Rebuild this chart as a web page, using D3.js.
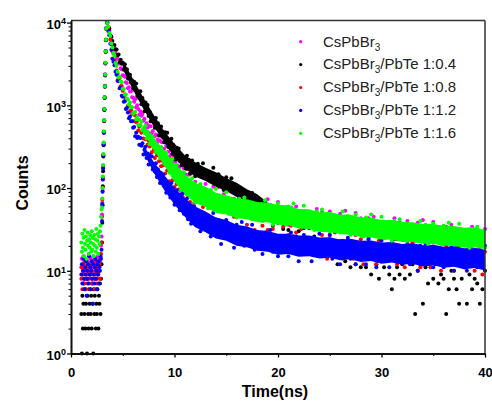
<!DOCTYPE html>
<html>
<head>
<meta charset="utf-8">
<script src="https://cdn.jsdelivr.net/npm/d3@7"></script>
<style>
  body { margin: 0; background: #fff; }
  svg { display: block; font-family: "Liberation Sans", Arial, sans-serif; }
</style>
</head>
<body>
<div id="chart"></div>
<script>
// channel grid: [start ns, step ns, number of channels]
var channelSegments = [[1.0, 0.05, 40], [3.0, 0.025, 17], [3.5, 0.1, 86], [12.25, 0.25, 112]];

var seriesLabels = ["CsPbBr3", "CsPbBr3/PbTe 1:0.4", "CsPbBr3/PbTe 1:0.8", "CsPbBr3/PbTe 1:1.2", "CsPbBr3/PbTe 1:1.6"];

// counts per channel (background / rise / decay / tail)
var cspbbr3Counts = [
  11,14,9,12,15,10,13,8,12,11,14,9,13,10,12,15,11,9,14,12,10,13,11,15,9,12,14,10,13,11,12,9,15,12,10,14,13,16,20,26,
  48,66,98,126,185,245,350,470,660,890,1260,1690,2380,3220,4550,6150,8550,
  10000,8560,8105,7010,6515,5475,5180,4500,4285,3865,3645,3170,3245,2815,2735,2305,2285,2210,1900,1865,1610,1655,1465,1475,1255,1235,1105,1185,940,1000,900,770,850,750,785,650,690,550,607,540,563,460,558,457,490,374,419,443,354,386,309,372,311,359,277,298,258,325,223,275,240,191,254,209,245,179,208,159,187,164,181,135,200,148,174,114,146,169,119,145,102,149,113,152,100,119,
  96,139,80,112,93,67,104,78,103,66,84,57,75,63,74,52,85,60,75,46,62,75,50,64,43,68,50,73,44,56,46,68,40,58,49,36,58,45,60,39,51,35,47,40,48,34,56,40,51,31,43,52,35,45,30,49,36,53,32,41,34,50,30,43,36,27,43,34,45,29,38,26,35,30,36,26,43,31,39,24,33,40,27,35,23,38,28,41,25,31,26,39,23,33,28,21,34,27,36,23,30,21,28,24,29,21,34,24,31,19,26,32
];
var pbte04Counts = [
  3,1,5,2,4,7,3,6,2,4,8,1,5,3,2,6,4,9,3,5,2,7,4,1,6,3,5,8,2,4,3,6,10,2,5,4,7,3,8,12,
  22,38,62,105,160,240,330,470,640,880,1230,1680,2300,3200,4400,6100,8400,
  10000,8785,8560,6970,6800,6000,5255,5370,4775,4730,4060,4115,3330,3565,3180,3265,2695,3135,2615,2725,2110,2285,2335,1890,1990,1605,1930,1525,1835,1300,1430,1220,1475,1030,1225,1060,850,1080,885,1010,742,837,642,735,638,686,537,701,549,607,433,508,553,418,472,357,472,363,466,314,361,304,394,260,331,285,223,307,249,301,212,253,189,230,200,224,172,246,188,219,150,188,216,158,190,139,
  196,149,200,131,154,130,176,112,147,125,95,135,107,131,89,107,75,91,76,84,60,87,63,72,44,58,68,44,55,35,54,38,54,32,39,31,45,26,36,30,22,33,25,33,20,26,17,22,18,21,15,24,16,21,12,17,20,13,17,11,18,12,19,11,14,11,17,9,14,12,8,14,11,15,9,6,8,11,9,12,8,14,9,12,3,10,12,4,11,7,11,8,12,7,9,8,3,6,10,8,6,4,8,11,4,9,6,8,7,4,6,10
];
var pbte08Counts = [
  8,11,6,9,12,7,10,8,13,6,9,11,7,10,8,12,9,6,11,8,10,7,12,9,8,11,6,10,9,13,7,8,11,9,10,12,8,14,16,22,
  45,72,92,135,176,255,340,480,645,910,1240,1720,2330,3270,4480,6250,8450,
  9800,8645,7695,6190,5560,4490,4225,3495,3245,2640,2425,2110,2140,1700,1715,1500,1285,1355,1185,1185,985,995,850,870,785,780,645,755,625,650,495,550,575,465,495,397,496,388,480,334,374,318,397,271,334,290,230,304,249,290,211,242,184,216,188,207,150,231,164,196,121,158,185,124,153,103,154,112,156,96,116,93,142,78,115,94,66,111,82,112,68,90,59,80,66,81,
  51,97,59,79,39,59,75,42,59,34,63,40,66,33,45,34,57,28,45,36,24,44,31,45,25,35,21,31,25,32,20,39,25,34,17,27,35,21,29,17,32,21,36,18,25,19,33,16,27,22,14,27,20,29,16,23,14,21,17,22,14,27,17,24,12,19,25,15,21,12,23,15,25,13,18,14,24,12,20,16,11,21,15,22,13,18,11,16,13,17,11,22,14,19,10,15,20,12,17,10,19,12,21,11,15,12,20,10,16,13,9,17
];
var pbte12Counts = [
  9,12,7,10,14,8,6,11,9,13,5,10,8,12,7,15,9,11,6,10,13,8,4,12,9,7,11,14,8,10,6,12,9,13,7,11,10,15,14,18,
  40,64,90,128,172,248,338,465,655,895,1245,1710,2340,3240,4520,6180,8520,
  10000,7940,7045,5555,4710,3650,3365,3045,2550,2335,1975,1955,1610,1620,1305,1270,1105,1120,900,925,820,700,735,640,640,535,546,423,465,403,418,333,403,325,347,255,291,316,231,262,192,252,196,242,168,187,159,199,136,167,145,115,152,124,146,106,125,88,110,93,106,77,115,84,99,63,81,94,64,79,54,83,58,86,49,62,50,75,42,61,51,37,60,45,60,38,
  50,30,43,34,42,26,50,30,41,21,32,41,24,34,19,36,23,39,20,27,21,36,18,29,23,16,29,21,31,17,24,15,22,18,23,15,29,19,26,13,21,27,16,23,13,25,17,28,15,20,16,27,14,22,18,12,23,17,25,14,20,12,18,15,19,12,24,16,21,11,17,23,13,19,11,22,14,24,13,17,13,23,12,19,16,10,20,14,21,12,17,11,16,13,17,11,21,13,19,10,15,20,12,17,10,19,12,21,11,15,12,20
];
var pbte16Counts = [
  22,17,28,19,25,15,31,21,18,26,14,23,29,20,16,24,19,27,22,17,30,18,25,21,15,27,20,24,17,32,19,23,28,16,26,21,30,35,45,55,
  58,75,100,138,190,258,355,485,660,905,1255,1705,2360,3260,4490,6220,8480,
  9900,8945,7510,6865,5610,5040,4300,3965,3240,2980,2550,2175,2225,1940,1905,1585,1580,1355,1355,1210,1175,1025,1085,945,945,790,815,835,680,720,580,670,570,635,500,530,463,568,398,480,420,339,435,360,415,308,349,269,310,273,296,233,307,243,271,196,232,269,184,224,154,224,166,225,142,169,139,190,117,156,132,95,154,116,155,96,125,84,112,93,112,77,131,90,114,67,
  92,112,70,92,57,95,65,98,56,72,58,89,49,74,61,44,74,56,77,47,63,42,58,48,59,40,71,49,63,36,52,65,42,56,36,60,42,65,37,48,39,61,34,51,43,31,52,40,55,34,45,30,42,35,43,29,52,35,46,27,38,48,31,41,26,44,31,48,28,36,29,45,25,39,32,23,40,30,42,26,35,23,32,27,33,23,40,27,36,21,30,37,24,32,21,35,25,38,22,29,24,37,21,31,26,19,32,24,34,21,28,19
];

// dense parts of the point clouds: lower / upper edge, every 1 ns
var bandTimeNs = [7,8,9,10,11,12,13,14,15,16,17,18,19,20,21,22,23,24,25,26,27,28,29,30,31,32,33,34,35,36,37,38,39,40];
var pbte16BandLow = [468,289,190,118,85,66,59,50,48,43.5,42,39,38.5,36,35.5,32.5,32,29.5,29.5,27.8,27.3,25.6,25.2,23.8,23.7,22.3,22.2,21.2,21,20.1,19.9,19,19.2,18.2];
var pbte16BandHigh = [572,398,290,197,148,115,104,88,82,75,73,68,67,62.5,62,56,55.5,51,51.5,48,47.6,44.3,43.8,41.2,41.2,38.8,38.7,36.8,36.8,35,34.8,33.2,33.5,31.3];
var pbte12BandLow = [270,153,95,63,45,33.5,29.3,24.6,23.1,20.1,19.3,17.5,17,15.6,15.9,14.8,15,14.1,14.4,13.4,13.8,12.8,13.1,12.2,12.6,11.8,12.2,11.3,11.7,10.9,11.2,10.4,10.8,10.1];
var pbte12BandHigh = [330,207,144,100,76,60,52,44,41,36,34.3,31.2,30.2,28,28.1,26.6,26.6,25.3,25.4,23.9,24.3,23,23.2,21.9,22.3,21.1,21.5,20.3,20.7,19.5,19.8,18.7,19,17.9];
var blackBandTimeNs = [5,6,7,8,9,10,11,12,13,14,15,16,17,18,19];
var pbte04BandLow = [2740,1530,905,550,360,232,174,138,122,104,92,78,68,56,48];
var pbte04BandHigh = [3560,2070,1235,762,488,344,250,205,176,155,132,116,97,84,67];

var xTicks = [0, 10, 20, 30, 40];
var xMinorTicks = [5, 15, 25, 35];
var yTicks = [1, 10, 100, 1000, 10000];

var colors = ["#ff00ff", "#000000", "#ff0000", "#0000ff", "#00ff00"];

var timeNs = [];
channelSegments.forEach(function(seg) {
    d3.range(seg[2]).forEach(function(i) { timeNs.push(seg[0] + i * seg[1]); });
});

var svgWidth = 492, svgHeight = 405;
var margin = { top: 20.5, right: 7, bottom: 51.5, left: 71 };
var chart_width = svgWidth - margin.left - margin.right;
var chart_height = svgHeight - margin.top - margin.bottom;

var svg = d3.select("#chart").append("svg")
    .attr("width", svgWidth)
    .attr("height", svgHeight);

var chartGroup = svg.append("g")
    .attr("transform", `translate(${margin.left}, ${margin.top})`);

var xScale = d3.scaleLinear().domain([0, 40]).range([0, chart_width]);
var yScale = d3.scaleLog().domain([1, 10600]).range([chart_height, 0]);

var series = [
    { name: seriesLabels[0], counts: cspbbr3Counts, color: colors[0] },
    { name: seriesLabels[1], counts: pbte04Counts, color: colors[1],
      band: { t: blackBandTimeNs, lo: pbte04BandLow, hi: pbte04BandHigh } },
    { name: seriesLabels[2], counts: pbte08Counts, color: colors[2] },
    { name: seriesLabels[3], counts: pbte12Counts, color: colors[3],
      band: { t: bandTimeNs, lo: pbte12BandLow, hi: pbte12BandHigh } },
    { name: seriesLabels[4], counts: pbte16Counts, color: colors[4],
      band: { t: bandTimeNs, lo: pbte16BandLow, hi: pbte16BandHigh } }
];

var area = d3.area()
    .x(d => xScale(d[0]))
    .y0(d => yScale(d[1]))
    .y1(d => yScale(d[2]))
    .curve(d3.curveLinear);

series.forEach(function(s) {
    if (s.band) {
        chartGroup.append("path")
            .datum(s.band.t.map((t, i) => [t, s.band.lo[i], s.band.hi[i]]))
            .attr("d", area)
            .attr("fill", s.color);
    }
    var pts = timeNs.map((t, i) => ({ t: t, c: s.counts[i] })).filter(d => d.c > 0);
    chartGroup.append("g").selectAll("circle")
        .data(pts)
        .enter()
        .append("circle")
        .attr("cx", d => xScale(d.t))
        .attr("cy", d => yScale(d.c))
        .attr("r", 2)
        .attr("fill", s.color);
});

// frame (top, right)
chartGroup.append("line").attr("x1", 0).attr("x2", chart_width).attr("y1", 0).attr("y2", 0)
    .attr("stroke", "#333").attr("stroke-width", 1.5);
chartGroup.append("line").attr("x1", chart_width).attr("x2", chart_width).attr("y1", 0).attr("y2", chart_height)
    .attr("stroke", "#333").attr("stroke-width", 1.5);

// x axis
chartGroup.append("g")
    .attr("transform", `translate(0, ${chart_height})`)
    .call(d3.axisBottom(xScale).tickValues(xMinorTicks).tickSize(2.5).tickSizeOuter(0).tickFormat(""))
    .call(g => g.select(".domain").remove());
var xAxisG = chartGroup.append("g")
    .attr("transform", `translate(0, ${chart_height})`)
    .call(d3.axisBottom(xScale).tickValues(xTicks).tickSize(4).tickSizeOuter(0).tickPadding(10));
xAxisG.attr("font-size", 13).attr("font-weight", "bold").attr("font-family", null);
xAxisG.select(".domain").attr("stroke-width", 2).attr("stroke", "#111");
xAxisG.selectAll(".tick line").attr("stroke-width", 1.3);

// y axis
var yMinor = [];
[1, 10, 100, 1000].forEach(function(dec) {
    d3.range(2, 10).forEach(function(k) { yMinor.push(dec * k); });
});
chartGroup.append("g")
    .call(d3.axisLeft(yScale).tickValues(yMinor).tickSize(2.5).tickSizeOuter(0).tickFormat(""))
    .call(g => g.select(".domain").remove());
var yAxisG = chartGroup.append("g")
    .call(d3.axisLeft(yScale).tickValues(yTicks).tickSize(4).tickSizeOuter(0).tickPadding(1));
yAxisG.attr("font-size", 13).attr("font-weight", "bold").attr("font-family", null);
yAxisG.select(".domain").attr("stroke-width", 2).attr("stroke", "#111");
yAxisG.selectAll(".tick line").attr("stroke-width", 1.3);
yAxisG.selectAll(".tick text").each(function(d) {
    var el = d3.select(this).attr("dy", "0.45em").text(null);
    el.append("tspan").text("10");
    el.append("tspan").attr("dy", "-0.5em").attr("font-size", 9).text(Math.round(Math.log10(d)));
});

// axis titles
svg.append("text")
    .attr("transform", "translate(28, 183) rotate(-90)")
    .attr("text-anchor", "middle")
    .attr("font-size", 16)
    .attr("font-weight", "bold")
    .text("Counts");

svg.append("text")
    .attr("x", 275)
    .attr("y", 397)
    .attr("text-anchor", "middle")
    .attr("font-size", 16)
    .attr("font-weight", "bold")
    .text("Time(ns)");

// legend
var legend = svg.append("g").attr("font-size", 15).attr("fill", "#222");
series.forEach(function(s, i) {
    var ly = 41.7 + i * 22.9;
    legend.append("circle").attr("cx", 300.7).attr("cy", ly).attr("r", 1.6).attr("fill", s.color);
    var txt = legend.append("text").attr("x", 323).attr("y", ly + 4.8);
    txt.append("tspan").text("CsPbBr");
    txt.append("tspan").attr("font-size", 10).attr("dy", 4).text("3");
    txt.append("tspan").attr("dy", -4).text(s.name.slice(7));
});
</script>
</body>
</html>
